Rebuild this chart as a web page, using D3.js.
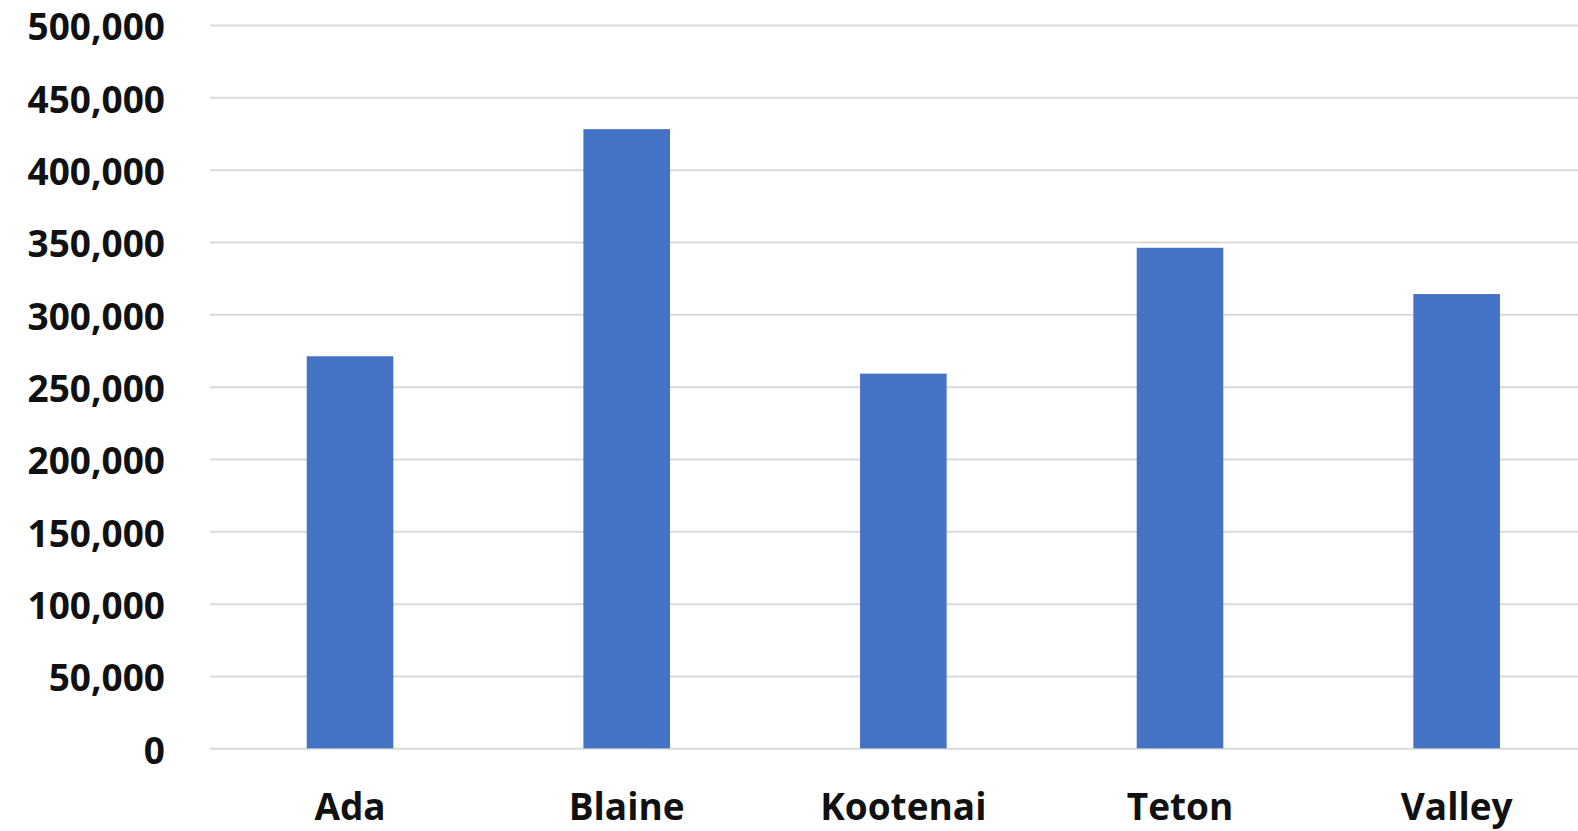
<html>
<head>
<script src="https://d3js.org/d3.v7.min.js"></script>
<style>
body { margin: 0; background: #fff; }
svg { display: block; }
.grid line { stroke: #d9d9d9; stroke-width: 2; }
.grid .domain { display: none; }
.ylab text, .xlab text { font-family: 'Open Sans', sans-serif; font-weight: 700; font-size: 37px; fill: #111; }
.ylab .domain, .ylab line, .xlab .domain, .xlab line { display: none; }
</style>
</head>
<body>
<div id="chart"></div>
<script>

var counties = ["Ada", "Blaine", "Kootenai", "Teton", "Valley"];
var values = [271000, 428000, 259000, 346000, 314000];
var yTicks = [0, 50000, 100000, 150000, 200000, 250000, 300000, 350000, 400000, 450000, 500000];

var width = 1578;
var height = 831;

var svg = d3.select("#chart").append("svg")
  .attr("width", width).attr("height", height);

// plot runs past the right edge, the original is cropped there
var xScale = d3.scaleBand().domain(counties).range([211.7, 1595]).paddingInner(0.687).paddingOuter(0.3435);
var yScale = d3.scaleLinear().domain([0, 500000]).range([748.3, 25]);

svg.append("g").attr("class", "grid")
  .attr("transform", "translate(210,0)")
  .call(d3.axisLeft(yScale).tickValues(yTicks).tickSize(-(width - 210)).tickFormat(""));

// labels nudged down a hair so the top one stays inside the picture
svg.append("g").attr("class", "ylab")
  .attr("transform", "translate(165,2)")
  .call(d3.axisLeft(yScale).tickValues(yTicks).tickSize(0).tickPadding(0).tickFormat(d3.format(",")))
  .selectAll("text").attr("dy", "0.35em");

svg.selectAll("rect.bar").data(values).enter().append("rect")
  .attr("class", "bar")
  .attr("x", (d, i) => xScale(counties[i]))
  .attr("y", d => yScale(d))
  .attr("width", xScale.bandwidth())
  .attr("height", d => yScale(0) - yScale(d))
  .style("fill", "#4472c4");

svg.append("g").attr("class", "xlab")
  .attr("transform", "translate(0,820)")
  .call(d3.axisBottom(xScale).tickSize(0).tickPadding(0))
  .selectAll("text").attr("dy", "0").attr("y", 0);

</script>
</body>
</html>
